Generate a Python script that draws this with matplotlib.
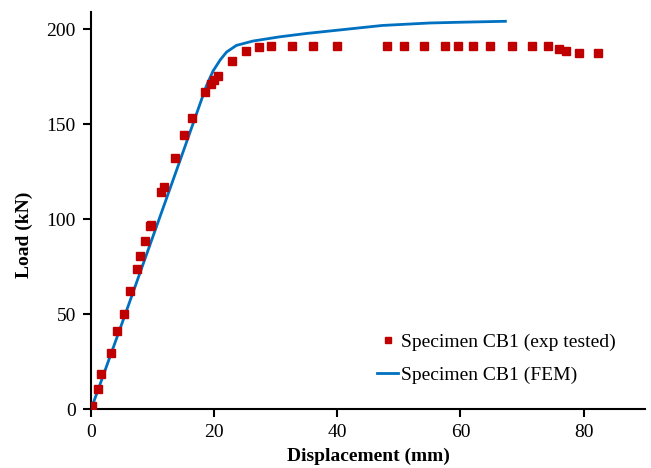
import matplotlib
matplotlib.use('Agg')
from matplotlib import pyplot as plt

# test data (displacement in mm, load in kN)
exp_disp = [0, 0.2, 1.1, 1.6, 3.2, 4.2, 5.3, 6.3, 7.4, 7.9, 8.8, 9.6, 9.8,
            11.4, 11.9, 13.6, 15.1, 16.4, 18.5, 19.5, 20.0, 20.6, 22.9,
            25.1, 27.2, 29.3, 32.6, 36.1, 39.9, 48.1, 50.9, 54.1, 57.5,
            59.6, 62.1, 64.8, 68.4, 71.6, 74.2, 76.0, 77.1, 79.3, 82.3]
exp_load = [0, 1.5, 10.5, 18.5, 29.5, 41, 50, 62, 74, 80.5, 88.5, 96.5, 97,
            114.5, 117, 132, 144.5, 153.5, 167, 171, 173.5, 175.5, 183.5,
            188.5, 190.5, 191, 191, 191, 191, 191, 191, 191, 191,
            191, 191, 191, 191, 191, 191, 189.6, 188.6, 187.7, 187.7]

fem_disp = [0, 5, 10, 15, 18.7, 19.8, 21, 22, 23.6, 26.3, 30.6, 35, 40,
            47.3, 55, 60, 67.3]
fem_load = [0, 45, 90.5, 136, 170, 178, 184, 188, 191.5, 193.8, 196,
            197.8, 199.5, 202, 203.3, 203.7, 204.2]

plt.rcParams['font.family'] = 'Liberation Serif'
plt.rcParams['font.size'] = 14

fig = plt.figure(figsize=(6.51, 4.68), dpi=100)
ax = fig.add_axes([0.14, 0.126, 0.851, 0.848])

ax.plot(exp_disp, exp_load, 's', color='#C00000', markersize=5.5,
        label='Specimen CB1 (exp tested)', zorder=3)
ax.plot(fem_disp, fem_load, '-', color='#0070C0', linewidth=2,
        label='Specimen CB1 (FEM)', zorder=2)

ax.set_xlim(0, 90)
ax.set_ylim(0, 209)
ax.set_xticks([0, 20, 40, 60, 80])
ax.set_yticks([0, 50, 100, 150, 200])
ax.spines['top'].set_visible(False)
ax.spines['right'].set_visible(False)
ax.spines['left'].set_linewidth(1.5)
ax.spines['bottom'].set_linewidth(1.5)
ax.tick_params(direction='out', length=6, width=1.5, pad=5)
ax.set_xlabel('Displacement (mm)', fontweight='bold', labelpad=4.5)
ax.set_ylabel('Load (kN)', fontweight='bold')
ax.yaxis.set_label_coords(-0.105, 0.44)

ax.legend(loc='lower right', bbox_to_anchor=(0.978, 0.02), frameon=False,
          handlelength=1.05, handletextpad=0.15, markerscale=0.7,
          labelspacing=0.75)

fig.savefig('out.png', dpi=100)
